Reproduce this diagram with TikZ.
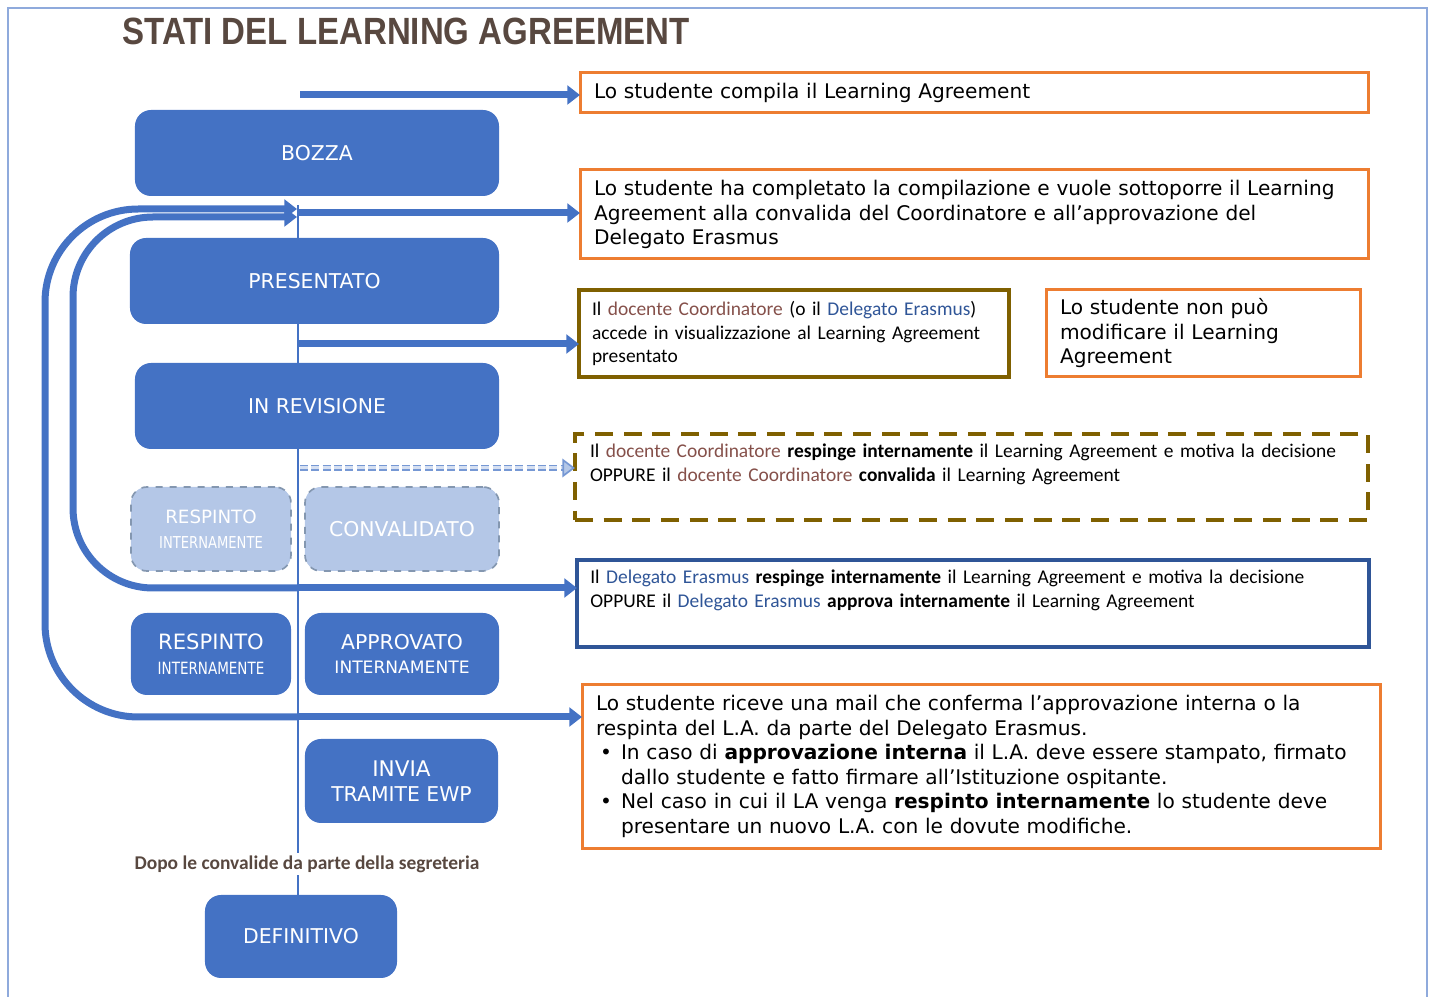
\documentclass[tikz,border=0pt]{standalone}
\usepackage{fontspec}
\setmainfont{DejaVu Sans}
\newfontfamily\calibri{Carlito}
\newfontfamily\stretta[FakeStretch=0.8]{DejaVu Sans}
\newfontfamily\titlefont[FakeStretch=0.87]{Liberation Sans}
\usetikzlibrary{arrows.meta}

\definecolor{statoblue}{HTML}{4472C4}
\definecolor{statofade}{HTML}{B4C7E7}
\definecolor{fadeline}{HTML}{8497B0}
\definecolor{boxorange}{HTML}{ED7D31}
\definecolor{boxolive}{HTML}{7F6000}
\definecolor{boxnavy}{HTML}{2F5597}
\definecolor{coordtext}{HTML}{85504A}
\definecolor{titlebrown}{HTML}{584840}
\definecolor{frameblue}{HTML}{8FAADC}

\newcommand{\statofont}{\fontsize{8.7pt}{10.5pt}\selectfont}
\newcommand{\notafont}{\fontsize{8.6pt}{10.45pt}\selectfont}
\newcommand{\calfont}{\calibri\fontsize{8.3pt}{10.2pt}\selectfont}
\newcommand{\coord}[1]{\textcolor{coordtext}{#1}}
\newcommand{\deleg}[1]{\textcolor{boxnavy}{#1}}
\newcommand{\punto}{\hangindent=3.75mm\hangafter=1\makebox[3.75mm][l]{\hspace{0.6mm}\textbullet}}

\begin{document}
\begin{tikzpicture}[x=0.15mm, y=-0.15mm,
    stato/.style={rectangle, rounded corners=2.4mm, fill=statoblue, text=white,
        font=\statofont, align=center, inner sep=0pt},
    sbiadito/.style={stato, fill=statofade, draw=fadeline, dashed, line width=0.25mm},
    nota/.style={rectangle, draw=boxorange, line width=0.45mm, anchor=north west,
        align=left, font=\notafont, inner xsep=2.1mm, inner ysep=0pt, outer sep=0pt},
    flusso/.style={draw=statoblue, line width=1.05mm, -{Triangle[length=1.9mm,width=2.8mm]}},
    tratto/.style={draw=statoblue!55!statofade, double=statofade!55!white, double distance=0.45mm,
        line width=0.25mm, dash pattern=on 1.2mm off 0.5mm,
        -{Triangle[length=1.9mm,width=2.8mm,fill=statofade]}},
    dorso/.style={draw=statoblue, line width=0.22mm}]
    \useasboundingbox (0,0) rectangle (1430,997);
    \draw [frameblue, line width=0.3mm] (8,997) -- (8,8) -- (1427,8) -- (1427,997);

    \node [anchor=west, text=titlebrown, font=\titlefont\bfseries\fontsize{16.2pt}{18pt}\selectfont]
        (titolo) at (114,31) {STATI DEL LEARNING AGREEMENT};

    % dorso
    \coordinate (cima) at (298,205);
    \node [font=\calibri\bfseries\fontsize{8.3pt}{9pt}\selectfont, text=titlebrown, inner sep=1pt]
        (dopo) at (307,864) {Dopo le convalide da parte della segreteria};
    \node [stato, minimum width=28.8mm, minimum height=12.45mm] (definitivo) at (301,936.5) {DEFINITIVO};
    \draw [dorso] (cima) -- (cima |- dopo.north)
        (cima |- dopo.south) -- (cima |- definitivo.north);

    % stati
    \node [stato, minimum width=54.6mm, minimum height=12.9mm] (bozza) at (317,153) {BOZZA};
    \node [stato, minimum width=55.35mm, minimum height=12.9mm] (presentato) at (314.5,281) {PRESENTATO};
    \node [stato, minimum width=54.6mm, minimum height=12.9mm] (revisione) at (317,406) {IN REVISIONE};
    \node [sbiadito, minimum width=24mm, minimum height=12.6mm] (respintoA) at (211,529)
        {\fontsize{7.8pt}{8.4pt}\selectfont RESPINTO\\\stretta\fontsize{7pt}{7.5pt}\selectfont INTERNAMENTE};
    \node [sbiadito, minimum width=29.1mm, minimum height=12.6mm] (convalidato) at (402,529) {CONVALIDATO};
    \node [stato, minimum width=24mm, minimum height=12.3mm] (respintoB) at (211,654)
        {\fontsize{9pt}{9pt}\selectfont RESPINTO\\\stretta\fontsize{7.2pt}{7.8pt}\selectfont INTERNAMENTE};
    \node [stato, minimum width=29.1mm, minimum height=12.3mm] (approvato) at (402,654)
        {\fontsize{8.7pt}{9.8pt}\selectfont APPROVATO\\\fontsize{7.3pt}{8pt}\selectfont INTERNAMENTE};
    \node [stato, minimum width=28.95mm, minimum height=12.6mm] (invia) at (401.5,781)
        {\fontsize{9.2pt}{13.7pt}\selectfont INVIA\\TRAMITE EWP};

    % note
    \node [nota, text width=114mm, minimum height=6mm] (compila) at (580,73)
        {Lo studente compila il Learning Agreement};
    \node [nota, text width=114mm, minimum height=13.35mm] (completato) at (580,170)
        {Lo studente ha completato la compilazione e vuole sottoporre il Learning\\
         Agreement alla convalida del Coordinatore e all’approvazione del\\
         Delegato Erasmus};
    \node [nota, draw=boxolive, line width=0.55mm, font=\calfont, inner xsep=1.95mm,
        text width=60.6mm, minimum height=13.05mm] (accede) at (579,290)
        {Il \coord{docente Coordinatore} (o il \deleg{Delegato Erasmus})\\
         accede in visualizzazione al Learning Agreement\\
         presentato};
    \node [nota, text width=42.9mm, minimum height=13.05mm] (bloccato) at (1046,290)
        {Lo studente non può\\ modificare il Learning\\ Agreement};
    \node [nota, draw=boxolive, line width=0.6mm, dash pattern=on 2.7mm off 1.6mm, font=\calfont,
        inner xsep=2.25mm, text width=114.45mm, text height=3.6mm, text depth=9.3mm] (coordina) at (575,434)
        {Il \coord{docente Coordinatore} \textbf{respinge internamente} il Learning Agreement e motiva la decisione\\
         OPPURE il \coord{docente Coordinatore} \textbf{convalida} il Learning Agreement};
    \node [nota, draw=boxnavy, line width=0.5mm, font=\calfont, inner xsep=2mm,
        text width=114.8mm, text height=3.6mm, text depth=9.45mm] (delegato) at (577,560)
        {Il \deleg{Delegato Erasmus} \textbf{respinge internamente} il Learning Agreement e motiva la decisione\\
         OPPURE il \deleg{Delegato Erasmus} \textbf{approva internamente} il Learning Agreement};
    \node [nota, text width=115.5mm, minimum height=24.45mm] (mail) at (582,685)
        {Lo studente riceve una mail che conferma l’approvazione interna o la\\
         respinta del L.A. da parte del Delegato Erasmus.\par
         \punto In caso di \textbf{approvazione interna} il L.A. deve essere stampato, firmato\newline
         dallo studente e fatto firmare all’Istituzione ospitante.\par
         \punto Nel caso in cui il LA venga \textbf{respinto internamente} lo studente deve\newline
         presentare un nuovo L.A. con le dovute modifiche.\par};

    % frecce
    \coordinate (p1) at (300,95);
    \coordinate (p2) at (298,213);
    \coordinate (p3) at (298,344);
    \coordinate (p4) at (300,468);
    \coordinate (p5) at (298,588);
    \coordinate (p6) at (298,717);
    \coordinate (ritorno1) at (297,209);
    \coordinate (ritorno2) at (297,217);

    \draw [flusso, rounded corners=14mm] (p6) -- (45,717) -- (45,209) -- (ritorno1);
    \draw [flusso, rounded corners=12mm] (p5) -- (73,588) -- (73,217) -- (ritorno2);

    \draw [flusso] (p1) -- (p1 -| compila.west);
    \draw [flusso] (p2) -- (p2 -| completato.west);
    \draw [flusso] (p3) -- (p3 -| accede.west);
    \draw [tratto] (p4) -- (p4 -| coordina.west);
    \draw [flusso] (p5) -- (p5 -| delegato.west);
    \draw [flusso] (p6) -- (p6 -| mail.west);
\end{tikzpicture}
\end{document}
